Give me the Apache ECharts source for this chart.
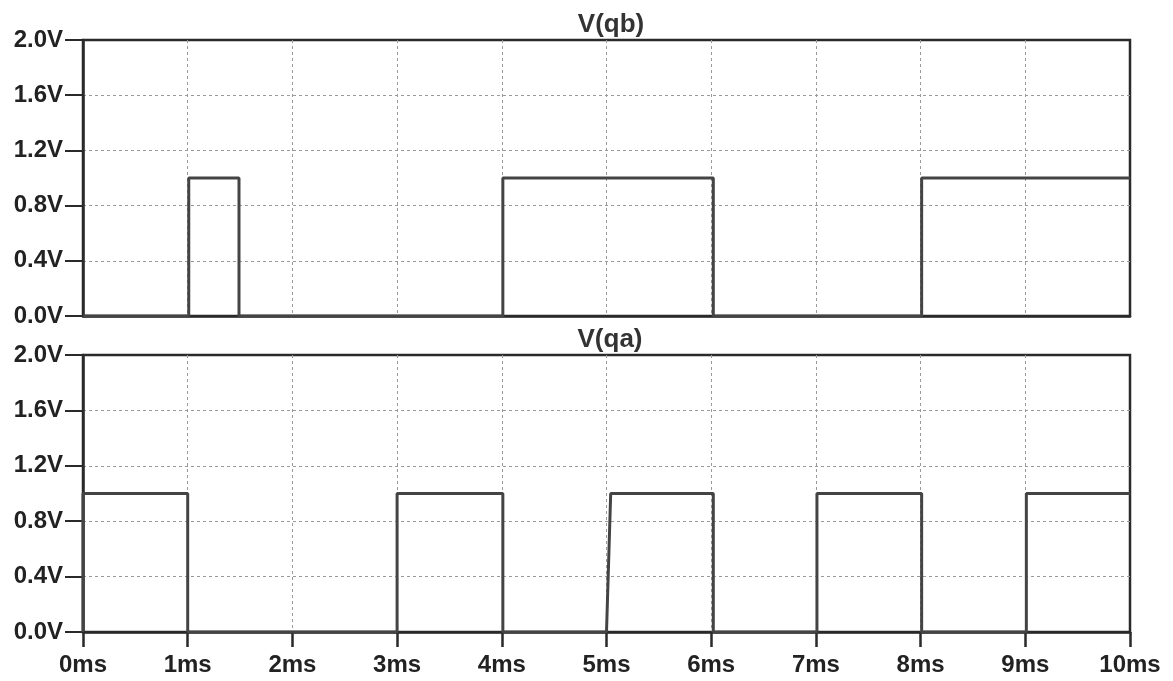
<!DOCTYPE html>
<html>
<head>
<meta charset="utf-8">
<script src="https://cdn.jsdelivr.net/npm/echarts@6/dist/echarts.min.js"></script>
<style>html,body{margin:0;padding:0;background:#fff}#c{width:1173px;height:681px}</style>
</head>
<body>
<div id="c"></div>
<script>
// Data (time in ms, voltage in V)
const qbTimes = [0, 1.01, 1.01, 1.49, 1.49, 4.01, 4.01, 6.02, 6.02, 8.01, 8.01, 10];
const qbVals  = [0, 0,    1,    1,    0,    0,    1,    1,    0,    0,    1,    1];
const qaTimes = [0, 0, 1.0, 1.0, 3.0, 3.0, 4.01, 4.01, 5.0, 5.04, 6.02, 6.02, 7.01, 7.01, 8.01, 8.01, 9.01, 9.01, 10];
const qaVals  = [0, 1, 1,   0,   0,   1,   1,    0,    0,   1,    1,    0,    0,    1,    1,    0,    0,    1,    1];
const xTicks = ['0ms','1ms','2ms','3ms','4ms','5ms','6ms','7ms','8ms','9ms','10ms'];
const titles = ['V(qb)', 'V(qa)'];

const font = 'Liberation Sans, Arial, sans-serif';
const frameColor = '#2a2a2a';
const gridLine = {show: true, showMinLine: false, showMaxLine: false,
  lineStyle: {color: '#9a9a9a', width: 1, type: [3, 3]}};

function yAxis(idx) {
  return {
    type: 'value', gridIndex: idx, min: 0, max: 2, interval: 0.4,
    axisLine: {show: true, lineStyle: {color: frameColor, width: 2.5}},
    axisTick: {show: true, length: 18, lineStyle: {color: frameColor, width: 2}},
    axisLabel: {margin: 20, color: '#222', fontSize: 24, fontWeight: 'bold', fontFamily: font,
      formatter: v => v.toFixed(1) + 'V'},
    splitLine: gridLine
  };
}
function xAxis(idx, labels) {
  return {
    type: 'value', gridIndex: idx, min: 0, max: 10, interval: 1,
    axisLine: {show: true, onZero: false, lineStyle: {color: frameColor, width: 2.5}},
    axisTick: {show: labels, length: 15, lineStyle: {color: frameColor, width: 2.5}},
    axisLabel: {show: labels, margin: 21, color: '#222', fontSize: 24, fontWeight: 'bold', fontFamily: font,
      formatter: v => xTicks[Math.round(v)]},
    splitLine: gridLine
  };
}

const chart = echarts.init(document.getElementById('c'));
chart.setOption({
  animation: false,
  backgroundColor: '#fff',
  title: [
    {text: titles[0], left: 606, top: 7, textAlign: 'center',
      textStyle: {fontSize: 26, fontWeight: 'bold', color: '#333', fontFamily: font}},
    {text: titles[1], left: 605, top: 322, textAlign: 'center',
      textStyle: {fontSize: 26, fontWeight: 'bold', color: '#333', fontFamily: font}}
  ],
  grid: [
    {left: 83, right: 43, top: 40, height: 276, show: true, borderColor: frameColor, borderWidth: 2.5},
    {left: 83, right: 43, top: 355, height: 277, show: true, borderColor: frameColor, borderWidth: 2.5}
  ],
  xAxis: [xAxis(0, false), xAxis(1, true)],
  yAxis: [yAxis(0), yAxis(1)],
  series: [
    {type: 'line', xAxisIndex: 0, yAxisIndex: 0, showSymbol: false, symbol: 'none',
      lineStyle: {color: '#444', width: 3}, data: qbTimes.map((t, i) => [t, qbVals[i]])},
    {type: 'line', xAxisIndex: 1, yAxisIndex: 1, showSymbol: false, symbol: 'none',
      lineStyle: {color: '#444', width: 3}, data: qaTimes.map((t, i) => [t, qaVals[i]])}
  ]
});
</script>
</body>
</html>
